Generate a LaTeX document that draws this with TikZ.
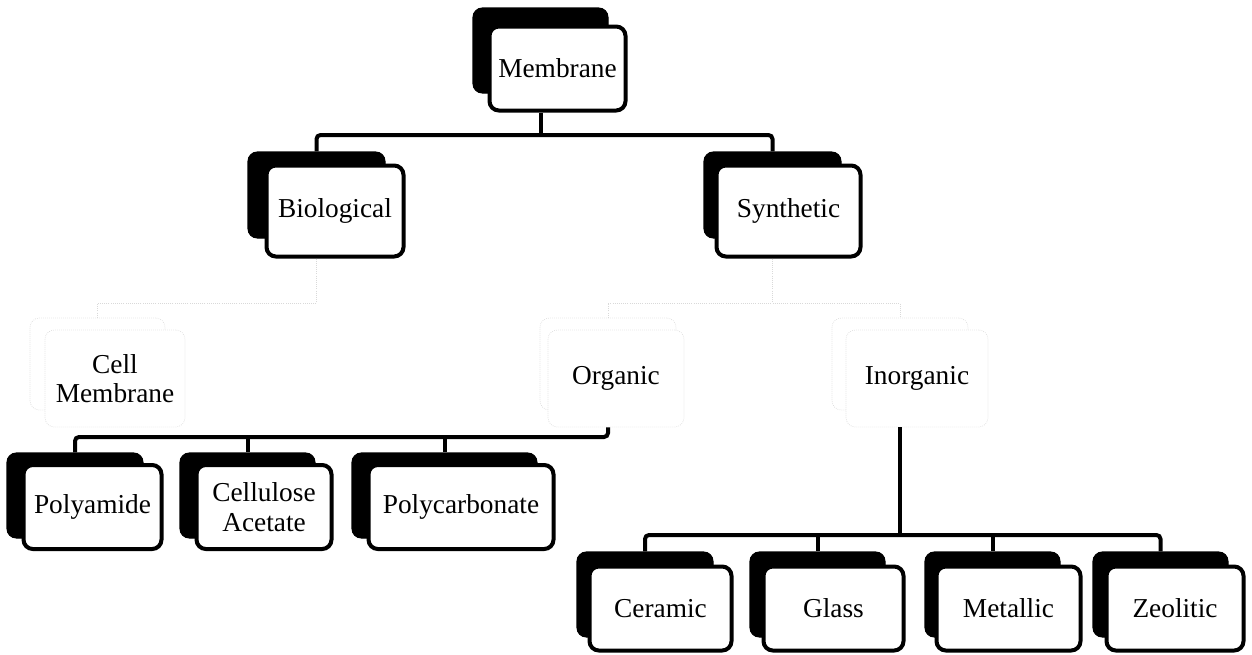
\documentclass[tikz,border=0pt]{standalone}
\usepackage{fontspec}
\setmainfont{Liberation Serif}
\begin{document}
\begin{tikzpicture}[x=0.75pt,y=-0.75pt,
  bk/.style 2 args={fill=black, draw=black, line width=0.8pt, rounded corners=7pt,
    minimum width=#1*0.75pt, minimum height=#2*0.75pt, inner sep=0pt},
  fr/.style 2 args={fill=white, draw=black, line width=3pt, rounded corners=7pt,
    minimum width=#1*0.75pt, minimum height=#2*0.75pt, inner sep=2pt,
    font=\fontsize{20.5}{22}\selectfont, align=center},
  fbk/.style 2 args={draw=black!15, densely dotted, line width=0.5pt, rounded corners=7pt,
    minimum width=#1*0.75pt, minimum height=#2*0.75pt, inner sep=0pt},
  ffr/.style 2 args={fill=white, draw=black!15, densely dotted, line width=0.5pt, rounded corners=7pt,
    minimum width=#1*0.75pt, minimum height=#2*0.75pt, inner sep=2pt,
    font=\fontsize{20.5}{22}\selectfont, align=center},
  conn/.style={draw=black, line width=3pt, rounded corners=3pt},
  fconn/.style={draw=black!15, densely dotted, line width=0.6pt}]
\useasboundingbox (0,0) rectangle (1252,654);
\fill[white] (0,0) rectangle (1252,654);

% top level
\node[bk={135}{85}] (memB) at (540.5,50.5) {};
\node[fr={136}{84}] (memF) at (557.5,68.5) {Membrane};

% second level
\node[bk={137}{86}] (bioB) at (316.5,195) {};
\node[fr={137}{91}] (bioF) at (335,211) {Biological};
\node[bk={137}{86}] (synB) at (772.5,195) {};
\node[fr={144}{91}] (synF) at (788.5,211) {Synthetic};

% third level (faint)
\node[fbk={135}{92}] (cellB) at (97.5,364) {};
\node[ffr={140}{97}] (cellF) at (115,378.5) {Cell\\Membrane};
\node[fbk={136}{92}] (orgB) at (608,364) {};
\node[ffr={136}{97}] (orgF) at (616,378.5) {Organic};
\node[fbk={136}{92}] (inoB) at (900,364) {};
\node[ffr={142}{97}] (inoF) at (917,378.5) {Inorganic};

% organic children
\node[bk={136}{85}] (polyB) at (75,495.5) {};
\node[fr={138}{84}] (polyF) at (92.5,507) {Polyamide};
\node[bk={135}{85}] (celluB) at (247.5,495.5) {};
\node[fr={135}{84}] (celluF) at (264,507) {Cellulose\\Acetate};
\node[bk={185}{85}] (pcB) at (444.5,495.5) {};
\node[fr={185}{84}] (pcF) at (461,507) {Polycarbonate};

% inorganic children
\node[bk={136}{85}] (cerB) at (645,594.5) {};
\node[fr={142}{84}] (cerF) at (660.5,608.5) {Ceramic};
\node[bk={135}{85}] (glaB) at (817.5,594.5) {};
\node[fr={140}{84}] (glaF) at (833.5,608.5) {Glass};
\node[bk={135}{85}] (metB) at (992.5,594.5) {};
\node[fr={144}{84}] (metF) at (1008.5,608.5) {Metallic};
\node[bk={135}{85}] (zeoB) at (1160.5,594.5) {};
\node[fr={137}{84}] (zeoF) at (1175,608.5) {Zeolitic};

% bus levels
\coordinate (b1) at (0,135);
\coordinate (bf) at (0,303);
\coordinate (b2) at (0,437);
\coordinate (b3) at (0,535);

% connectors
\draw[conn] (memB |- memF.south) -- (memB |- b1);
\draw[conn] (bioB.north) -- (bioB |- b1) -- (synB |- b1) -- (synB.north);

\draw[fconn] (bioB |- bioF.south) -- (bioB |- bf) -- (cellB |- bf) -- (cellB.north);
\draw[fconn] (synB |- synF.south) -- (synB |- bf);
\draw[fconn] (orgB.north) -- (orgB |- bf) -- (inoB |- bf) -- (inoB.north);

\draw[conn] (polyB.north) -- (polyB |- b2) -- (orgB |- b2) -- (orgB |- orgF.south);
\draw[conn] (celluB |- b2) -- (celluB.north);
\draw[conn] (pcB |- b2) -- (pcB.north);

\draw[conn] (inoB |- inoF.south) -- (inoB |- b3);
\draw[conn] (cerB.north) -- (cerB |- b3) -- (zeoB |- b3) -- (zeoB.north);
\draw[conn] (glaB |- b3) -- (glaB.north);
\draw[conn] (metB |- b3) -- (metB.north);
\end{tikzpicture}
\end{document}
